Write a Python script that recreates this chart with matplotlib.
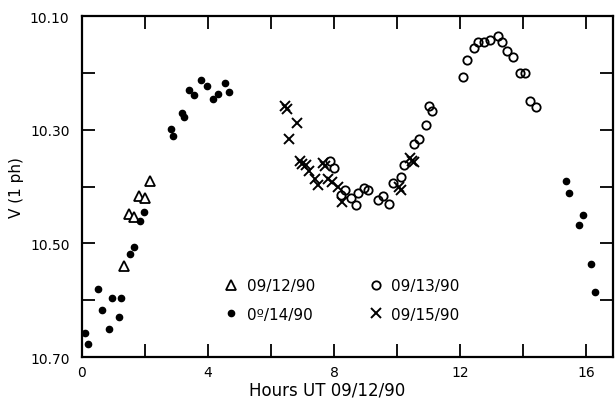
import matplotlib
matplotlib.use('Agg')
import matplotlib.pyplot as plt
from matplotlib.ticker import MultipleLocator, FuncFormatter

# 09/12/90 (triangles)
t12_hours = [1.33, 1.49, 1.66, 1.80, 2.00, 2.16]
t12_mag = [10.540, 10.449, 10.454, 10.417, 10.420, 10.391]

# 09/13/90 (open circles)
t13_hours = [7.87, 7.99, 8.23, 8.36, 8.54, 8.69, 8.76, 8.95, 9.09, 9.41, 9.57, 9.75,
             9.86, 10.14, 10.21, 10.55, 10.71, 10.92, 11.01, 11.11,
             12.10, 12.24, 12.45, 12.58, 12.75, 12.96, 13.20, 13.33, 13.51, 13.69,
             13.90, 14.06, 14.24, 14.41]
t13_mag = [10.355, 10.368, 10.415, 10.406, 10.421, 10.433, 10.411, 10.402, 10.406, 10.424, 10.416, 10.430,
           10.394, 10.384, 10.363, 10.325, 10.317, 10.292, 10.258, 10.267,
           10.207, 10.178, 10.156, 10.145, 10.145, 10.143, 10.136, 10.146, 10.162, 10.173,
           10.200, 10.200, 10.250, 10.260]

# 09/14/90 (filled dots)
t14_hours = [0.10, 0.20, 0.50, 0.63, 0.87, 0.96, 1.18, 1.24, 1.51, 1.64, 1.85, 1.97,
             2.83, 2.90, 3.17, 3.25, 3.40, 3.57, 3.78, 3.96, 4.15, 4.32, 4.53, 4.68,
             15.37, 15.45, 15.79, 15.90, 16.15, 16.29]
t14_mag = [10.657, 10.677, 10.581, 10.617, 10.650, 10.597, 10.629, 10.597, 10.518, 10.507, 10.460, 10.445,
           10.299, 10.312, 10.270, 10.277, 10.231, 10.239, 10.212, 10.223, 10.246, 10.237, 10.218, 10.234,
           10.391, 10.411, 10.467, 10.450, 10.536, 10.585]

# 09/15/90 (crosses)
t15_hours = [6.45, 6.50, 6.82, 6.57, 6.92, 6.98, 7.11, 7.22, 7.41, 7.48, 7.66, 7.72,
             7.82, 7.93, 8.12, 8.24, 10.05, 10.12, 10.40, 10.48, 10.54]
t15_mag = [10.258, 10.264, 10.288, 10.317, 10.356, 10.360, 10.363, 10.372, 10.386, 10.398, 10.359, 10.364,
           10.386, 10.392, 10.401, 10.427, 10.400, 10.407, 10.350, 10.355, 10.357]

fig = plt.figure(figsize=(6.15, 4.02), dpi=100)
ax = fig.add_axes([82/615, 44/402, 531/615, 341/402])

ax.plot(t12_hours, t12_mag, '^', ms=7.5, mfc='white', mec='black', mew=1.3, ls='none', label='09/12/90')
ax.plot(t14_hours, t14_mag, 'o', ms=4.5, color='black', ls='none', label='0º/14/90')
ax.plot(t13_hours, t13_mag, 'o', ms=6, mfc='none', mec='black', mew=1.3, ls='none', label='09/13/90')
ax.plot(t15_hours, t15_mag, 'x', ms=7.5, color='black', mew=1.4, ls='none', label='09/15/90')

ax.set_xlim(0, 16.86)
ax.set_ylim(10.70, 10.10)

ax.xaxis.set_major_locator(MultipleLocator(2))
ax.yaxis.set_major_locator(MultipleLocator(0.1))
ax.xaxis.set_major_formatter(FuncFormatter(lambda v, p: '%d' % round(v) if round(v) % 4 == 0 else ''))
ax.yaxis.set_major_formatter(FuncFormatter(lambda v, p: '%.2f' % v if round(v * 10) % 2 == 1 else ''))
ax.tick_params(direction='in', length=9.5, width=1.3, top=True, right=True, labelsize=10)
ax.tick_params(axis='x', pad=6)
ax.tick_params(axis='y', pad=9)

for s in ax.spines.values():
    s.set_linewidth(1.6)

ax.set_xlabel('Hours UT 09/12/90', fontsize=12, x=0.461, labelpad=1)
ax.set_ylabel('V (1 ph)', fontsize=11, labelpad=4)

ax.legend(loc='upper left', bbox_to_anchor=(0.267, 0.232), ncol=2, frameon=False,
          fontsize=11, handlelength=1.0, handletextpad=0.5, columnspacing=3.5,
          labelspacing=0.9, borderpad=0, borderaxespad=0)

fig.savefig('out.png', dpi=100)
